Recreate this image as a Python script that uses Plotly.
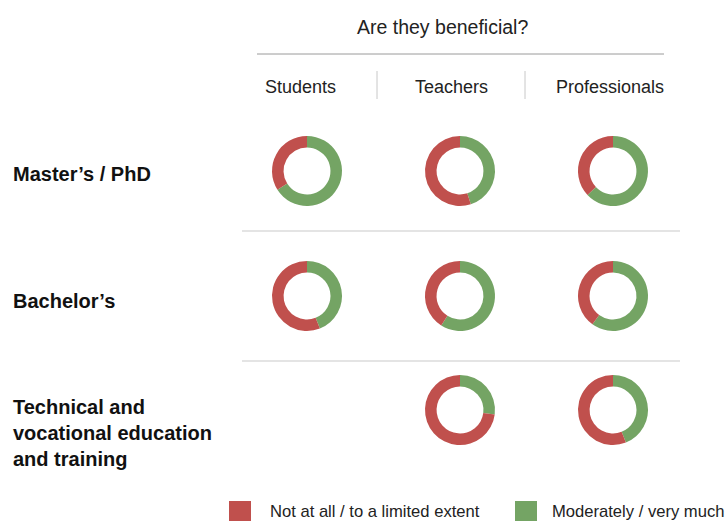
import plotly.graph_objects as go

# ---- data ----
title_text = "Are they beneficial?"
groups = ["Students", "Teachers", "Professionals"]
levels = ["Master’s / PhD", "Bachelor’s", "Technical and<br>vocational education<br>and training"]
answer_labels = ["Not at all / to a limited extent", "Moderately / very much"]
not_at_all = [
    [34, 55, 37],
    [56, 41, 40],
    [None, 73, 56],
]
moderately = [
    [66, 45, 63],
    [44, 59, 60],
    [None, 27, 44],
]
colors = ["#C0504D", "#74A464"]

# ---- layout constants (pixels) ----
W, H = 727, 521
col_x = [307, 460, 613]
row_y = [171, 296, 410]
R = 35
FONT = "Liberation Sans, Arial, sans-serif"


def px(x):
    return x / W


def py(y):
    return 1 - y / H


fig = go.Figure()

for i, lvl in enumerate(levels):
    for j, g in enumerate(groups):
        a, b = not_at_all[i][j], moderately[i][j]
        if a is None or b is None:
            continue
        cx, cy = col_x[j], row_y[i]
        # green starts at 12 o'clock going clockwise, red fills the rest (left side)
        fig.add_trace(go.Pie(
            labels=[answer_labels[1], answer_labels[0]],
            values=[b, a],
            sort=False,
            direction="clockwise",
            hole=0.67,
            marker=dict(colors=[colors[1], colors[0]], line=dict(width=0)),
            textinfo="none",
            showlegend=False,
            name=f"{lvl} – {g}",
            domain=dict(x=[px(cx - R), px(cx + R)], y=[py(cy + R), py(cy - R)]),
        ))

shapes = []
annotations = []

# title and underline
annotations.append(dict(text=title_text, x=px(442), y=py(27), xref="paper", yref="paper",
                        showarrow=False, xanchor="center", yanchor="middle",
                        font=dict(family=FONT, size=19.5, color="#222")))
shapes.append(dict(type="line", xref="paper", yref="paper", x0=px(257), x1=px(664),
                   y0=py(54), y1=py(54), line=dict(color="#9a9a9a", width=1)))

# column headers
hdr_x = [300, 451, 610]
for j, g in enumerate(groups):
    annotations.append(dict(text=g, x=px(hdr_x[j]), y=py(87), xref="paper", yref="paper",
                            showarrow=False, xanchor="center", yanchor="middle",
                            font=dict(family=FONT, size=18, color="#222")))
for xv in [377, 525]:
    shapes.append(dict(type="line", xref="paper", yref="paper", x0=px(xv), x1=px(xv),
                       y0=py(71), y1=py(99), line=dict(color="#c8c8c8", width=1)))

# row labels
lbl_y = [174, 301, 433]
for i, lvl in enumerate(levels):
    annotations.append(dict(text=f"<b>{lvl}</b>", x=px(11), y=py(lbl_y[i]), xref="paper", yref="paper",
                            showarrow=False, xanchor="left", yanchor="middle", align="left",
                            font=dict(family=FONT, size=20, color="#111")))

# row separators
for yv in [231, 361]:
    shapes.append(dict(type="line", xref="paper", yref="paper", x0=px(242), x1=px(680),
                       y0=py(yv), y1=py(yv), line=dict(color="#e4e4e4", width=2)))

# legend
leg_sq_x = [229, 515]
leg_tx_x = [268, 550]
for k, lab in enumerate(answer_labels):
    shapes.append(dict(type="rect", xref="paper", yref="paper",
                       x0=px(leg_sq_x[k]), x1=px(leg_sq_x[k] + 22),
                       y0=py(522), y1=py(501), fillcolor=colors[k], line=dict(width=0)))
    annotations.append(dict(text=lab, x=px(leg_tx_x[k]), y=py(511), xref="paper", yref="paper",
                            showarrow=False, xanchor="left", yanchor="middle",
                            font=dict(family=FONT, size=16.6, color="#222")))

fig.update_layout(
    width=W, height=H,
    margin=dict(l=0, r=0, t=0, b=0),
    paper_bgcolor="white", plot_bgcolor="white",
    shapes=shapes, annotations=annotations,
    showlegend=False,
)

fig.write_html("out.html")
